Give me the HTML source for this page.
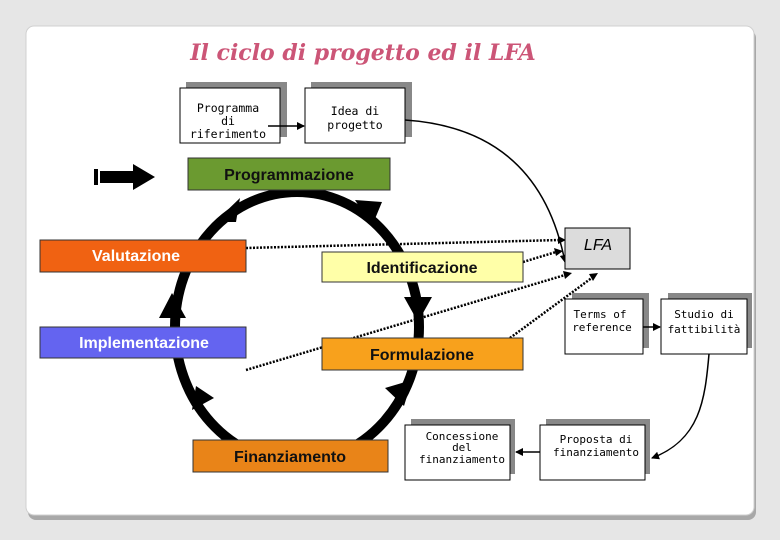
<!DOCTYPE html>
<html><head><meta charset="utf-8"><style>
html,body{margin:0;padding:0;background:#e6e6e6;}
svg{display:block;font-family:"Liberation Sans","DejaVu Sans",sans-serif;}
</style></head><body>
<svg width="780" height="540" viewBox="0 0 780 540" xmlns="http://www.w3.org/2000/svg">
<defs>
<marker id="ah" markerWidth="8" markerHeight="8" refX="7" refY="4" orient="auto" markerUnits="userSpaceOnUse"><path d="M0,0 L8,4 L0,8 Z" fill="#000"/></marker>
</defs>
<rect x="0" y="0" width="780" height="540" fill="#e6e6e6"/>
<rect x="28" y="30" width="728" height="490" rx="8" fill="#a8a8a8"/>
<rect x="26" y="26" width="728" height="489" rx="8" fill="#fff" stroke="#d0d0d0"/>
<text x="363" y="60" text-anchor="middle" font-family="DejaVu Serif,serif" font-style="italic" font-weight="bold" font-size="22" fill="#cc5577">Il ciclo di progetto ed il LFA</text>

<g font-family="DejaVu Sans Mono,monospace" font-size="11.5" text-anchor="middle" fill="#000">
<rect x="186" y="82" width="101" height="55" fill="#888"/>
<rect x="180" y="88" width="100" height="55" fill="#fff" stroke="#000"/>
<text x="228" y="112">Programma</text><text x="228" y="125">di</text><text x="228" y="138">riferimento</text>
<rect x="311" y="82" width="101" height="55" fill="#888"/>
<rect x="305" y="88" width="100" height="55" fill="#fff" stroke="#000"/>
<text x="355" y="115">Idea di</text><text x="355" y="129">progetto</text>
</g>
<line x1="268" y1="126" x2="304" y2="126" stroke="#000" stroke-width="1.5" marker-end="url(#ah)"/>

<rect x="94" y="169" width="4" height="16" fill="#000"/>
<path d="M100,171 L133,171 L133,164 L155,177 L133,190 L133,183 L100,183 Z" fill="#000"/>

<ellipse cx="297" cy="327" rx="122" ry="135" fill="none" stroke="#000" stroke-width="10"/>
<g fill="#000">
<path d="M215,222 L240,198 L236,222 Z"/>
<path d="M355,200 L382,202 L372,226 Z"/>
<path d="M404,297 L432,297 L418,322 Z"/>
<path d="M412,380 L404,406 L385,388 Z"/>
<path d="M192,410 L196,386 L214,398 Z"/>
<path d="M159,318 L172,293 L186,318 Z"/>
</g>

<g stroke="#000" stroke-width="2.5" stroke-dasharray="2,1.5" fill="none">
<path d="M246,248 L560,240"/>
<path d="M523,262 L556,252"/>
<path d="M246,370 L565,275"/>
<path d="M510,338 L593,277"/>
</g>
<g fill="#000">
<path d="M558,236 L566,240 L558,244 Z"/>
<path d="M554,248 L563,251 L556,256 Z"/>
<path d="M563,271 L572,273 L565,279 Z"/>
<path d="M589,274 L598,273 L593,281 Z"/>
</g>
<path d="M405,120 C480,125 545,160 565,262" stroke="#000" stroke-width="1.5" fill="none" marker-end="url(#ah)"/>

<g font-weight="bold" font-size="16" text-anchor="middle">
<rect x="188" y="158" width="202" height="32" fill="#6b9a30" stroke="#333"/>
<text x="289" y="180" fill="#111">Programmazione</text>
<rect x="40" y="240" width="206" height="32" fill="#f06212" stroke="#333"/>
<text x="92" y="261" text-anchor="start" fill="#fff">Valutazione</text>
<rect x="322" y="252" width="201" height="30" fill="#ffffa8" stroke="#333"/>
<text x="422" y="273" fill="#111">Identificazione</text>
<rect x="40" y="327" width="206" height="31" fill="#6464f0" stroke="#333"/>
<text x="144" y="348" fill="#fff">Implementazione</text>
<rect x="322" y="338" width="201" height="32" fill="#f8a11c" stroke="#333"/>
<text x="422" y="360" fill="#111">Formulazione</text>
<rect x="193" y="440" width="195" height="32" fill="#e98418" stroke="#333"/>
<text x="290" y="462" fill="#111">Finanziamento</text>
</g>

<rect x="565" y="228" width="65" height="41" fill="#dcdcdc" stroke="#000"/>
<text x="598" y="250" text-anchor="middle" font-style="italic" font-size="16">LFA</text>

<g font-family="DejaVu Sans Mono,monospace" font-size="11" text-anchor="middle">
<rect x="572" y="293" width="77" height="55" fill="#888"/>
<rect x="565" y="299" width="78" height="55" fill="#fff" stroke="#000"/>
<text x="600" y="318">Terms of</text><text x="602" y="331">reference</text>
<rect x="668" y="293" width="84" height="55" fill="#888"/>
<rect x="661" y="299" width="86" height="55" fill="#fff" stroke="#000"/>
<text x="704" y="318">Studio di</text><text x="704" y="333">fattibilità</text>
<rect x="411" y="419" width="104" height="55" fill="#888"/>
<rect x="405" y="425" width="105" height="55" fill="#fff" stroke="#000"/>
<text x="462" y="440">Concessione</text><text x="462" y="451">del</text><text x="462" y="463">finanziamento</text>
<rect x="546" y="419" width="104" height="55" fill="#888"/>
<rect x="540" y="425" width="105" height="55" fill="#fff" stroke="#000"/>
<text x="596" y="443">Proposta di</text><text x="596" y="456">finanziamento</text>
</g>
<line x1="643" y1="327" x2="660" y2="327" stroke="#000" stroke-width="1.5" marker-end="url(#ah)"/>
<line x1="540" y1="452" x2="516" y2="452" stroke="#000" stroke-width="1.5" marker-end="url(#ah)"/>
<path d="M709,354 C705,400 700,440 652,458" stroke="#000" stroke-width="1.5" fill="none" marker-end="url(#ah)"/>
</svg>
</body></html>
